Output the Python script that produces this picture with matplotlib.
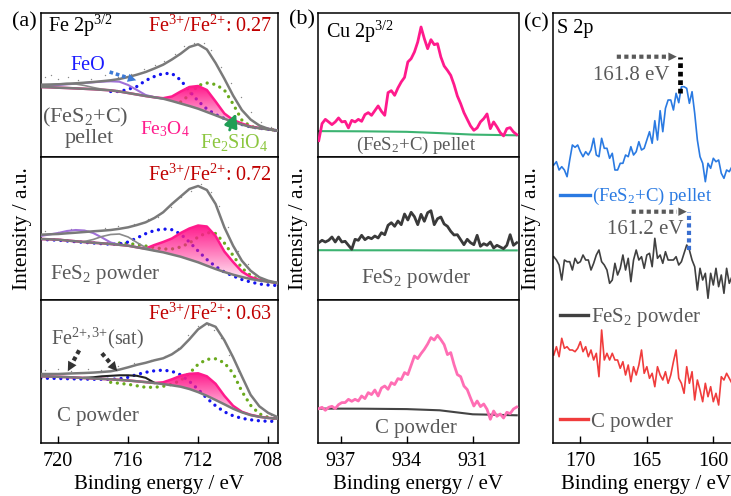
import numpy as np
import matplotlib
matplotlib.use("Agg")
import matplotlib.pyplot as plt
from matplotlib.colors import to_rgb

plt.rcParams.update({
    "font.family": ["Liberation Serif", "DejaVu Serif"],
    "mathtext.fontset": "custom",
    "mathtext.rm": "Liberation Serif",
    "mathtext.it": "Liberation Serif:italic",
    "mathtext.bf": "Liberation Serif:bold",
    "mathtext.default": "regular",
    "axes.linewidth": 1.1,
})
nan = np.nan

# ---------------- (a) Fe 2p3/2 fitted spectra ----------------
fe_energy = [721.0, 720.5, 720.0, 719.5, 719.0, 718.5, 718.0, 717.5, 717.0, 716.5,
             716.0, 715.5, 715.0, 714.5, 714.0, 713.5, 713.0, 712.5, 712.0, 711.5,
             711.0, 710.5, 710.0, 709.5, 709.0, 708.5, 708.0, 707.5]

# (FeS2+C) pellet
pellet_env = [70.3, 70.5, 70.7, 71.2, 71.7, 72.3, 73.0, 73.8, 74.7, 76.0, 78.0, 80.3, 83.0, 86.5,
              90.3, 95.5, 101.3, 108.0, 110.7, 105.5, 92.0, 76.3, 59.5, 45.0, 35.5, 29.5, 26.3, 24.5]
pellet_bg = [68.0, 67.7, 67.3, 67.0, 66.6, 66.2, 65.8, 65.2, 64.7, 63.5, 62.0, 60.5, 59.0, 57.7,
             56.3, 54.0, 51.5, 49.0, 46.3, 43.0, 39.7, 36.3, 33.0, 30.5, 28.0, 26.8, 25.7, 24.3]
pellet_sat = [69.0, 69.5, 70.0, 70.7, 71.3, 72.0, 72.7, 73.3, 73.7, 73.3, 70.0, 65.0, 60.0, 57.8,
              56.3, nan, nan, nan, nan, nan, nan, nan, nan, nan, nan, nan, nan, nan]
pellet_sat2 = [69.0, 70.0, 71.0, 71.5, 71.0, 69.5, 67.5, 65.8, 64.7, nan, nan, nan, nan, nan,
               nan, nan, nan, nan, nan, nan, nan, nan, nan, nan, nan, nan, nan, nan]
pellet_feo = [nan, nan, nan, nan, nan, nan, nan, nan, 63.5, 63.5, 65.7, 68.5, 74.5, 78.5,
              81.5, 81.5, 75.0, 64.0, 54.0, 46.0, 40.5, 36.5, 33.0, 30.5, 28.0, 26.8, 25.7, 24.3]
pellet_fe3o4 = [68.0, 67.7, 67.3, 67.0, 66.6, 66.2, 65.8, 65.2, 64.7, 63.5, 62.0, 60.5, 59.0, 57.7,
                56.8, 58.5, 63.5, 68.0, 69.0, 65.0, 53.5, 41.5, 35.0, 31.5, 28.5, 27.0, 26.0, 24.4]
pellet_fe2sio4 = [nan, nan, nan, nan, nan, nan, nan, nan, nan, nan, nan, nan, nan, nan,
                  nan, nan, 53.0, 60.0, 69.5, 72.0, 70.5, 65.0, 51.0, 35.0, 28.5, 27.0, 26.0, 24.4]
pellet_dot_e = [720.78, 720.40, 720.02, 719.45, 718.87, 718.11, 717.35, 716.59, 715.83, 715.07,
                714.49, 713.93, 713.35, 712.78, 712.21, 711.64, 711.26, 710.69, 710.11, 709.54,
                708.97, 708.40, 707.83]
pellet_dot_y = [78.0, 79.7, 76.3, 78.0, 74.7, 76.3, 79.7, 78.0, 81.3, 86.3, 89.7, 93.7, 101.3,
                108.7, 112.0, 112.3, 104.7, 88.0, 72.3, 58.0, 43.0, 33.0, 28.0]

# FeS2 powder
powder_env = [65.3, 65.7, 66.0, 66.7, 67.3, 68.0, 68.7, 69.3, 70.0, 71.2, 72.7, 75.0, 77.7, 82.0,
              87.7, 96.0, 103.5, 111.0, 114.0, 110.0, 96.0, 72.7, 54.3, 39.3, 29.3, 22.7, 19.3, 17.3]
powder_bg = [61.0, 60.7, 60.3, 59.5, 58.7, 58.0, 57.3, 56.7, 56.0, 55.2, 54.3, 52.7, 51.0, 49.3,
             47.7, 45.5, 43.3, 40.5, 37.7, 34.3, 31.0, 28.0, 25.3, 23.0, 21.0, 19.5, 18.3, 17.0]
powder_sat = [64.0, 65.5, 67.0, 69.0, 70.0, 69.5, 67.0, 62.5, 57.5, 55.2, nan, nan, nan, nan,
              nan, nan, nan, nan, nan, nan, nan, nan, nan, nan, nan, nan, nan, nan]
powder_sat2 = [nan, nan, nan, nan, nan, 58.5, 60.5, 63.5, 65.5, 66.0, 63.0, 57.5, 52.5, 49.3,
               nan, nan, nan, nan, nan, nan, nan, nan, nan, nan, nan, nan, nan, nan]
powder_feo = [60.5, 60.2, 59.8, 59.0, 58.3, 57.6, 57.0, 56.3, 55.8, 56.0, 58.0, 62.0, 66.3, 69.5,
              71.0, 70.3, 66.0, 58.0, 49.0, 40.5, 33.5, 28.0, 24.0, 20.5, 18.0, 16.0, 15.0, 14.5]
powder_fe3o4 = [61.0, 60.7, 60.3, 59.5, 58.7, 58.0, 57.3, 56.7, 56.0, 55.2, 54.3, 52.7, 51.5, 55.0,
                58.0, 61.5, 67.0, 71.5, 74.5, 73.5, 64.0, 48.5, 38.0, 28.5, 23.0, 20.0, 18.5, 17.0]
powder_fe2sio4 = [nan, nan, nan, nan, nan, nan, nan, nan, nan, 57.0, 56.5, 55.5, 54.0, 52.5,
                  51.0, 51.0, 53.0, 57.0, 63.0, 67.5, 66.5, 57.0, 44.5, 32.0, 24.5, 20.0, 18.0, 17.0]
powder_dot_e = [720.78, 720.02, 719.26, 718.30, 717.35, 716.59, 715.64, 714.88, 714.31, 713.55,
                712.97, 712.40, 711.83, 711.26, 710.78, 710.30, 709.73, 709.16, 708.59, 707.83]
powder_dot_y = [69.3, 67.7, 71.0, 68.7, 72.0, 74.3, 76.0, 81.0, 83.3, 92.7, 102.7, 109.3, 116.0,
                107.7, 94.3, 72.7, 49.3, 36.0, 24.3, 17.7]

# C powder
cpow_env = [69.3, 69.3, 69.3, 69.7, 70.0, 70.3, 70.7, 71.3, 72.0, 73.7, 76.0, 78.5, 80.5, 83.0,
            85.0, 89.0, 95.0, 104.0, 114.0, 120.0, 116.5, 103.0, 86.0, 67.0, 48.5, 37.0, 30.5, 26.5]
cpow_bg = [67.0, 66.8, 66.5, 66.2, 65.8, 65.3, 64.8, 64.4, 64.0, 63.4, 62.8, 62.0, 61.2, 60.3,
           59.2, 58.0, 56.6, 54.3, 51.2, 47.5, 43.3, 39.0, 34.6, 31.0, 28.2, 26.5, 25.3, 24.7]
cpow_sat = [nan, nan, nan, nan, nan, 65.5, 66.0, 67.0, 67.5, 68.0, 68.0, 67.5, 65.5, 60.5,
            nan, nan, nan, nan, nan, nan, nan, nan, nan, nan, nan, nan, nan, nan]
cpow_feo = [65.0, 65.0, 64.8, 64.6, 64.4, 64.2, 64.0, 64.0, 64.0, 64.5, 66.0, 68.8, 71.0, 72.5,
            73.2, 72.0, 68.5, 62.0, 54.0, 45.0, 37.5, 31.5, 27.5, 25.0, 23.5, 22.5, 22.0, 22.0]
cpow_fe3o4 = [67.0, 66.8, 66.5, 66.2, 65.8, 65.3, 64.8, 64.4, 64.0, 63.4, 62.8, 62.0, 61.2, 60.3,
              61.0, 64.0, 67.5, 69.5, 70.0, 67.0, 59.5, 47.5, 37.5, 31.5, 28.5, 26.6, 25.4, 24.8]
cpow_fe2sio4 = [nan, nan, nan, nan, nan, nan, nan, nan, 61.0, 60.0, 59.0, 57.5, 56.0, 56.0,
                57.0, 59.0, 63.0, 70.0, 79.0, 84.0, 84.5, 80.5, 70.0, 52.0, 38.0, 29.5, 26.0, 24.0]
cpow_dot_e = [720.78, 720.02, 719.26, 718.30, 717.54, 716.59, 715.64, 714.68, 713.92, 713.16,
              712.59, 712.02, 711.45, 711.07, 710.69, 710.21, 709.73, 709.16, 708.59, 707.83]
cpow_dot_y = [73.7, 74.7, 72.7, 74.7, 73.7, 77.0, 80.3, 83.7, 87.0, 95.3, 108.7, 117.0, 118.7,
              113.7, 105.3, 88.7, 72.0, 52.0, 38.7, 28.7]

fe_ratios = ["0.27", "0.72", "0.63"]
fe_ticks = [720, 716, 712, 708]

# ---------------- (b) Cu 2p3/2 ----------------
cu_start, cu_stop = 938.0, 929.0
cu_pellet = [16, 33, 37.3, 34.7, 32, 34.7, 38.7, 34.7, 35.3, 28.7, 36.3, 34.7, 37.3, 35.3, 42, 44,
             41.3, 46, 50.7, 45.3, 41.3, 64, 66, 61.3, 68.7, 74.7, 79.3, 94.7, 98, 104.7, 114.7,
             129.7, 118, 108, 117, 112, 113, 99.7, 90.7, 86.3, 81.3, 72, 60.7, 53, 44, 37.3, 30.7,
             26.3, 28.7, 34.7, 38, 42.7, 28, 34.7, 29.7, 24, 20.7, 28, 29, 24.7, 22]
cu_powder = [57.3, 59.7, 58, 59.7, 63, 58, 63, 58, 58.7, 54.7, 50.7, 60.7, 59.7, 64.7, 60.3, 62.7,
             61.3, 64, 62, 67.3, 65.3, 74.7, 77.3, 73.7, 79, 75.3, 86, 80, 87.7, 83.3, 75.3, 85.7,
             78.7, 87.3, 89.3, 75.3, 81.3, 83, 76, 73.7, 68.7, 65, 65.3, 60.3, 55.3, 60.7, 57.3,
             55.3, 64.7, 53.7, 56.3, 54.7, 58, 52, 54.7, 53, 51.3, 54.7, 65.3, 54.7, 57.3]
cu_cpow = [34.7, 36, 33, 36, 37, 34.7, 38.7, 40.7, 40.7, 44, 42, 44, 42.3, 47.3, 44.7, 50.7, 48.7,
           53.3, 47.3, 55.3, 57.3, 54, 60.7, 58.7, 64.7, 63.7, 70.7, 68.7, 78, 87.3, 84.7, 89.7,
           94, 99.3, 105.7, 103.3, 108, 103.7, 98.7, 88.7, 90.7, 78.7, 68.7, 66.7, 57.3, 53.7,
           45.3, 37.3, 42.3, 36.7, 39.3, 34, 24, 32.3, 27, 29.3, 25.3, 31, 29.7, 34.3, 36.3]
cu_base_e = [938.0, 936.0, 934.0, 932.5, 931.0, 929.0]
cu_base_pellet = [25.5, 25.3, 24.8, 23.5, 22.0, 21.3]
cu_base_powder = [49.8, 49.7, 49.7, 49.6, 49.6, 49.6]
cu_base_cpow = [34.7, 34.6, 34.2, 33.0, 29.0, 28.0]
cu_ticks = [937, 934, 931]

# ---------------- (c) S 2p ----------------
s_start, s_stop = 172.0, 158.6
s_pellet = [278.3, 281.6, 273.3, 276.6, 273.3, 266.6, 283.3, 298.3, 296, 298.3, 291.6, 286.6,
            291.6, 288.3, 293.3, 305, 288.3, 286.6, 305, 295, 295, 285, 290, 273.3, 273.3, 280,
            280, 288.3, 286.6, 296.6, 288.3, 291.6, 301.6, 293.3, 295, 303.3, 311.6, 300, 322.6,
            303.3, 332.6, 311.6, 335, 343.3, 343.3, 333.3, 350, 340.6, 356.6, 356.6, 355, 340,
            351.6, 330, 303.3, 286.6, 280, 261.6, 280, 275, 285, 281.6, 283.3, 270, 265, 273.3,
            271.6, 276.6]
s_powder = [186.6, 183.3, 178.3, 163.3, 183.3, 181.6, 181.6, 173.3, 185, 180, 181.6, 188.3, 183.3,
            183.3, 173.3, 180, 188.3, 193.3, 181.6, 178.3, 173.3, 160, 163.3, 180, 168.3, 175,
            188.3, 173.3, 185, 161.6, 183.3, 193.3, 183.3, 186.6, 175, 188.3, 190, 176.6, 205, 185,
            188.3, 180, 191.6, 183.3, 183.3, 183.3, 186.6, 178.3, 181.6, 190, 198.3, 193.3, 183.3,
            176.6, 153.3, 175, 163.3, 170, 145, 170, 158.3, 175, 156.6, 168.3, 150, 175, 160, 166.6]
s_cpow = [88.3, 96.6, 86.6, 105, 95, 96.6, 93.3, 93.3, 91.6, 95, 101.6, 91.6, 96.6, 86.6, 93.3,
          83.3, 90, 66.6, 113.3, 83.3, 90, 83.3, 90, 83.3, 83.3, 75, 81.6, 68.3, 78.3, 61.6, 76.6,
          68.3, 78.3, 93.3, 70, 76.6, 65, 70, 56.6, 76.6, 68.3, 63.3, 71.6, 60, 68.3, 81.6, 93.3,
          65, 60, 50, 76.6, 60, 71.6, 43.3, 63.3, 53.3, 41.6, 60, 46.6, 56.6, 41.6, 50, 38.3,
          66.6, 63.3, 70, 65, 60]
s_ticks = [170, 165, 160]
s_peaks = [161.8, 161.2]

# ---------------- figure ----------------
W, H = 731, 496
fig = plt.figure(figsize=(W / 100, H / 100), dpi=100)


def add_ax(l, t, r, b):
    return fig.add_axes([l / W, 1 - b / H, (r - l) / W, (b - t) / H])


def ftext(x, y, s, **kw):
    return fig.text(x / W, 1 - y / H, s, **kw)


GREY_T = "#595959"
RED_T = "#c00000"
PINK = "#ff1a8c"
DOTS = (0, (0.01, 2.0))
SQDOT = (0, (1.0, 0.8))


def grad_fill(ax, x, lo, hi, color):
    x = np.asarray(x, float); lo = np.asarray(lo, float); hi = np.asarray(hi, float)
    poly = ax.fill_between(x, lo, hi, facecolor="none", edgecolor="none", lw=0)
    ymin, ymax = np.nanmin(lo), np.nanmax(hi)
    n = 200
    img = np.ones((n, 2, 4))
    img[..., :3] = to_rgb(color)
    img[..., 3] = (np.linspace(1.0, 0.0, n) ** 0.9)[:, None]
    im = ax.imshow(img, extent=[x.max(), x.min(), ymin, ymax], origin="upper",
                   aspect="auto", interpolation="bilinear", zorder=2.5)
    im.set_clip_path(poly.get_paths()[0], ax.transData)


def dotted_arrow(ax, start, end, color, lw, head=16, gap=6):
    ax.annotate("", xy=end, xytext=start,
                arrowprops=dict(arrowstyle="-", color=color, lw=lw, linestyle=SQDOT,
                                capstyle="butt", shrinkA=0, shrinkB=gap), zorder=6)
    ax.annotate("", xy=end, xytext=start,
                arrowprops=dict(arrowstyle="-|>", color=color, lw=0.01, mutation_scale=head,
                                shrinkA=0, shrinkB=0), zorder=6)


fe_sets = [
    (pellet_env, pellet_bg, pellet_sat, pellet_sat2, "#a070d8", "#8a8a8a", pellet_feo,
     pellet_fe3o4, pellet_fe2sio4, pellet_dot_e, pellet_dot_y),
    (powder_env, powder_bg, powder_sat, powder_sat2, "#a070d8", "#8a8a8a", powder_feo,
     powder_fe3o4, powder_fe2sio4, powder_dot_e, powder_dot_y),
    (cpow_env, cpow_bg, cpow_sat, None, "#222222", None, cpow_feo,
     cpow_fe3o4, cpow_fe2sio4, cpow_dot_e, cpow_dot_y),
]
row_tb = [(13.3, 156.6), (156.6, 300.0), (300.0, 443.3)]
a_ylims = [(-1.6, 141.7), (0, 143.4), (0, 143.3)]
axes_a = []
for i, (env, bg, sat, sat2, satc, sat2c, feo, fe3o4, fe2sio4, de, dy) in enumerate(fe_sets):
    ax = add_ax(40.7, row_tb[i][0], 277.7, row_tb[i][1])
    axes_a.append(ax)
    ax.plot(de, dy, ls="none", marker="o", ms=1.0, mew=0, color="#8a8a8a", zorder=1)
    ax.plot(fe_energy, fe2sio4, color="#6aaa1e", lw=2.4, ls=DOTS, dash_capstyle="round", zorder=2)
    ax.plot(fe_energy, feo, color="#1414f0", lw=2.4, ls=DOTS, dash_capstyle="round", zorder=2)
    grad_fill(ax, fe_energy, bg, fe3o4, PINK)
    ax.plot(fe_energy, fe3o4, color=PINK, lw=1.8, zorder=3)
    ax.plot(fe_energy, sat, color=satc, lw=1.5, zorder=3)
    if sat2 is not None:
        ax.plot(fe_energy, sat2, color=sat2c, lw=1.2, zorder=3)
    ax.plot(fe_energy, bg, color="#7a7a7a", lw=1.8, zorder=4)
    ax.plot(fe_energy, env, color="#7a7a7a", lw=1.8, zorder=4)
    ax.set_xlim(721.0, 707.45)
    ax.set_ylim(*a_ylims[i])
    ax.set_yticks([])
    if i < 2:
        ax.set_xticks([])
    else:
        ax.set_xticks(fe_ticks)
        ax.tick_params(axis="x", direction="in", length=5, width=1, labelsize=14.5, pad=6)
    ftext(272, [26, 175, 314.5][i], r"Fe$^{3{+}}$/Fe$^{2{+}}$: " + fe_ratios[i], color=RED_T,
          fontsize=14.5, ha="right", va="center")

# annotations (a)
ftext(24.5, 22, "(a)", fontsize=16, ha="center", va="center")
ftext(48, 26, r"Fe 2p$^{3/2}$", fontsize=14.5, ha="left", va="center")
ftext(88, 66, "FeO", color="#1a1aff", fontsize=14.5, ha="center", va="center")
ftext(85.5, 117, r"(FeS$_2$+C)", color=GREY_T, fontsize=16, ha="center", va="center")
ftext(89.7, 138, "pellet", color=GREY_T, fontsize=16, ha="center", va="center")
ftext(164.7, 129.5, r"Fe$_3$O$_4$", color=PINK, fontsize=14, ha="center", va="center")
ftext(234.5, 142, r"Fe$_2$SiO$_4$", color="#8cc63f", fontsize=14.5, ha="center", va="center")
ftext(104.7, 275, r"FeS$_2$ powder", color=GREY_T, fontsize=15, ha="center", va="center")
ftext(98, 338, r"Fe$^{2{+},3{+}}$(sat)", color=GREY_T, fontsize=14.5, ha="center", va="center")
ftext(98, 416.5, "C powder", color=GREY_T, fontsize=15, ha="center", va="center")

dotted_arrow(axes_a[0], (717.06, 83.0), (715.54, 74.7), "#3d7ad6", 2.6, head=15, gap=7)
axes_a[0].annotate("", xy=(709.83, 41.5), xytext=(710.2, 25.0),
                   arrowprops=dict(arrowstyle="-|>", color="#1f9e55", lw=2.0,
                                   mutation_scale=20, shrinkA=0, shrinkB=0), zorder=6)
for (x0, y0, x1, y1) in [(718.8, 93.0, 719.45, 72.0), (717.5, 90.0, 716.62, 72.0)]:
    dotted_arrow(axes_a[2], (x0, y0), (x1, y1), "#333333", 3.0, head=17, gap=8)

# ---------------- (b) ----------------
cu_sets = [(cu_pellet, "#ff1a8c", cu_base_pellet, "#3cb371", r"(FeS$_2$+C) pellet", 13.5, 145.3),
           (cu_powder, "#3a3a3a", cu_base_powder, "#3cb371", r"FeS$_2$ powder", 15, 278.7),
           (cu_cpow, "#ff6eb4", cu_base_cpow, "#444444", "C powder", 15, 428)]
b_ylims = [(0, 143.4), (0, 143.4), (0, 143.3)]
for i, (vals, col, base, bcol, lab, fs, ly) in enumerate(cu_sets):
    ax = add_ax(318.3, row_tb[i][0], 518.5, row_tb[i][1])
    e = np.linspace(cu_start, cu_stop, len(vals))
    ax.plot(cu_base_e, base, color=bcol, lw=1.5, zorder=2)
    ax.plot(e, vals, color=col, lw=2.0, zorder=3)
    ax.set_xlim(938.02, 928.92)
    ax.set_ylim(*b_ylims[i])
    ax.set_yticks([])
    if i < 2:
        ax.set_xticks([])
    else:
        ax.set_xticks(cu_ticks)
        ax.tick_params(axis="x", direction="in", length=5, width=1, labelsize=14.5, pad=6)
    ftext(416, ly, lab, color=GREY_T, fontsize=fs, ha="center", va="center")
ftext(302.5, 20, "(b)", fontsize=16, ha="center", va="center")
ftext(326, 32, r"Cu 2p$^{3/2}$", fontsize=14.5, ha="left", va="center")

# ---------------- (c) ----------------
axc = add_ax(552.7, 13.3, 731.0, 443.3)
se = np.linspace(s_start, s_stop, len(s_pellet))
lp, = axc.plot(se, s_pellet, color="#2a7ae2", lw=1.2)
lw_, = axc.plot(se, s_powder, color="#404040", lw=1.2)
lc, = axc.plot(se, s_cpow, color="#f03c3c", lw=1.2)
axc.set_xlim(172.08, 158.67)
axc.set_ylim(0, 430)
axc.set_yticks([])
axc.set_xticks(s_ticks)
axc.tick_params(axis="x", direction="in", length=5, width=1, labelsize=14.5, pad=6)
axc.spines["right"].set_visible(False)

leg_specs = [(lp, r"(FeS$_2$+C) pellet", "#2a7ae2", 13.5, 0.5735, 1.6),
             (lw_, r"FeS$_2$ powder", GREY_T, 15, 0.292, 1.35),
             (lc, "C powder", GREY_T, 15, 0.0502, 1.35)]
for k, (h, lab, tc, fs, yy, hl) in enumerate(leg_specs):
    leg = axc.legend([h], [lab], loc="center left", bbox_to_anchor=(0.041, yy), frameon=False,
                     fontsize=fs, handlelength=hl, handletextpad=0.12, borderpad=0,
                     borderaxespad=0, labelcolor=tc)
    leg.get_lines()[0].set_linewidth(2.4)
    if k < 2:
        axc.add_artist(leg)

# peak markers
dotted_arrow(axc, (167.26, 386.6), (162.75, 386.6), GREY_T, 3.0, head=15, gap=7)
axc.plot([162.5, 162.5], [350, 386.6], color="black", lw=3.4, ls=SQDOT)
axc.text(163.27, 368.3, f"{s_peaks[0]} eV", color=GREY_T, fontsize=15, ha="right", va="center")
dotted_arrow(axc, (166.14, 231.6), (162.0, 231.6), GREY_T, 3.0, head=15, gap=7)
axc.plot([161.8, 161.8], [193.3, 231.6], color="#3a6fd0", lw=3.0, ls=SQDOT)
axc.text(162.26, 213.3, f"{s_peaks[1]} eV", color=GREY_T, fontsize=15, ha="right", va="center")
ftext(536.5, 22.5, "(c)", fontsize=16, ha="center", va="center")
ftext(557, 28.3, "S 2p", fontsize=14.5, ha="left", va="center")

# axis labels
for xc in [159.2, 418.4, 646.0]:
    ftext(xc, 488.8, "Binding energy / eV", fontsize=15, ha="center", va="baseline")
for xc in [22.5, 298.5, 531.5]:
    ftext(xc, 228.3, "Intensity / a.u.", fontsize=15.5, ha="center", va="center", rotation=90)

fig.savefig("out.png", dpi=100)
